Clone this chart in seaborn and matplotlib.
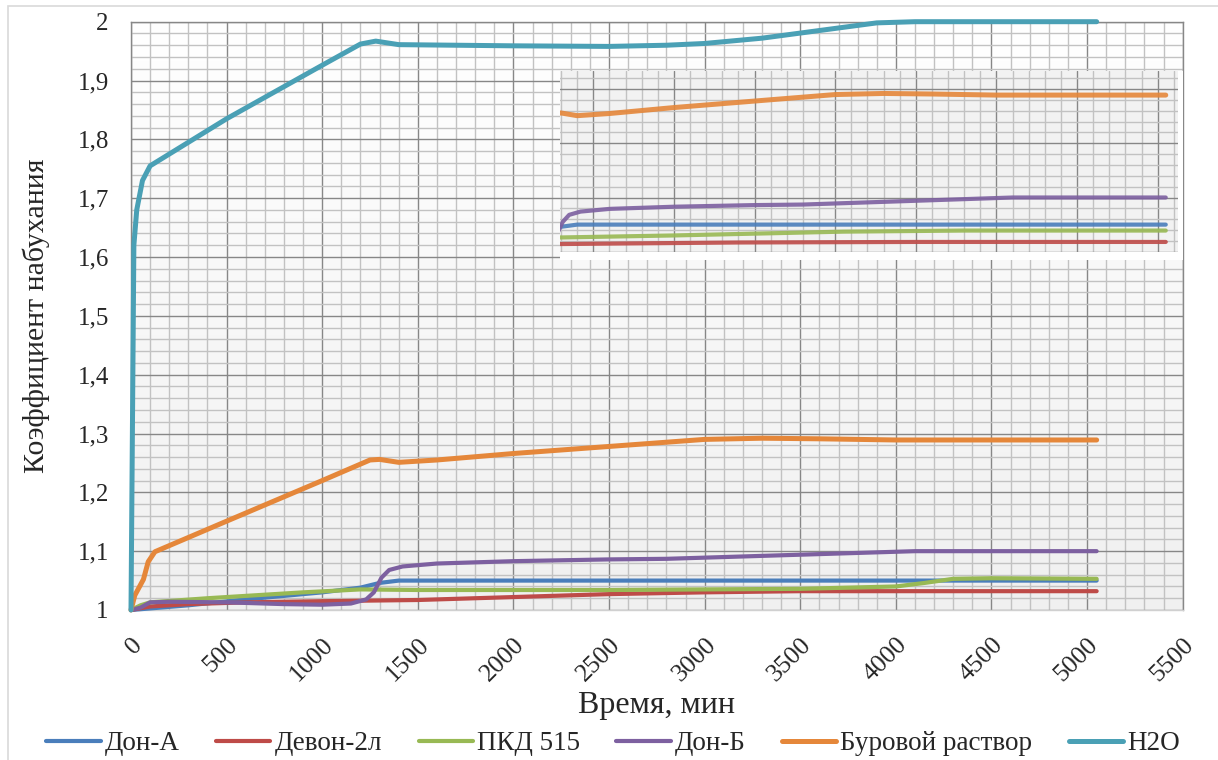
import numpy as np
import pandas as pd
import matplotlib
matplotlib.use('Agg')
import matplotlib.pyplot as plt
import matplotlib.transforms as mtransforms
from matplotlib.colors import LinearSegmentedColormap
from matplotlib.patches import Rectangle
from matplotlib.ticker import MultipleLocator
import seaborn as sns

sns.set_theme(style='white')
plt.rcParams['font.family'] = ['Liberation Serif', 'DejaVu Serif']

# данные (время, мин -> коэффициент набухания)
don_a_t = [0, 300, 600, 1000, 1200, 1300, 1400, 5050]
don_a_k = [1.0, 1.008, 1.018, 1.030, 1.038, 1.046, 1.050, 1.050]

devon_t = [0, 100, 300, 600, 1000, 1500, 2000, 2500, 3000, 3500, 5050]
devon_k = [1.0, 1.006, 1.010, 1.013, 1.015, 1.017, 1.022, 1.027, 1.030, 1.032, 1.032]

pkd_t = [0, 50, 100, 400, 900, 1200, 1500, 2500, 3500, 4000, 4150, 4300, 4500, 5050]
pkd_k = [1.0, 1.008, 1.013, 1.020, 1.030, 1.035, 1.034, 1.034, 1.036, 1.040, 1.046, 1.053, 1.054, 1.053]

don_b_t = [0, 50, 100, 200, 500, 800, 1000, 1150, 1230, 1270, 1310, 1350, 1420, 1600,
           2000, 2500, 2800, 3000, 3500, 4000, 4100, 5050]
don_b_k = [1.0, 1.004, 1.013, 1.014, 1.013, 1.010, 1.009, 1.011, 1.018, 1.030, 1.055, 1.068,
           1.074, 1.079, 1.083, 1.086, 1.087, 1.089, 1.094, 1.099, 1.100, 1.100]

bur_t = [0, 20, 40, 65, 90, 125, 500, 1000, 1250, 1300, 1400, 1600, 2000, 2500, 3000,
         3300, 3600, 4000, 5050]
bur_k = [1.0, 1.025, 1.037, 1.052, 1.082, 1.099, 1.151, 1.220, 1.255, 1.256, 1.251, 1.255,
         1.266, 1.278, 1.290, 1.292, 1.291, 1.289, 1.289]

h2o_t = [0, 15, 30, 60, 100, 200, 500, 1000, 1200, 1280, 1400, 1700, 2000, 2500, 2800,
         3000, 3300, 3600, 3900, 4100, 4500, 5050]
h2o_k = [1.0, 1.62, 1.68, 1.73, 1.755, 1.775, 1.835, 1.926, 1.962, 1.967, 1.961, 1.960,
         1.959, 1.958, 1.960, 1.963, 1.972, 1.985, 1.998, 2.0, 2.0, 2.0]

# врезка: Девон-2л и ПКД 515 на ней идут немного ниже
inset_devon_t = [1250, 2400, 3500, 5050]
inset_devon_k = [1.014, 1.017, 1.018, 1.018]
inset_pkd_t = [1250, 2000, 3050, 3800, 5050]
inset_pkd_k = [1.026, 1.030, 1.037, 1.039, 1.039]

names = ['Дон-А', 'Девон-2л', 'ПКД 515', 'Дон-Б', 'Буровой раствор', 'H2O']
times = [don_a_t, devon_t, pkd_t, don_b_t, bur_t, h2o_t]
values = [don_a_k, devon_k, pkd_k, don_b_k, bur_k, h2o_k]
colors = ['#4a7ebb', '#be4b48', '#98b954', '#7d60a0', '#e5873a', '#4aa0b5']
widths = [3.0, 3.0, 3.0, 3.0, 3.6, 3.6]

df = pd.concat([pd.DataFrame({'t': t, 'k': k, 'name': n})
                for t, k, n in zip(times, values, names)], ignore_index=True)
ins_times = [don_a_t, inset_devon_t, inset_pkd_t, don_b_t, bur_t]
ins_values = [don_a_k, inset_devon_k, inset_pkd_k, don_b_k, bur_k]
df_ins = pd.concat([pd.DataFrame({'t': t, 'k': k, 'name': n})
                    for t, k, n in zip(ins_times, ins_values, names)], ignore_index=True)

W, H = 1218, 760
fig = plt.figure(figsize=(W / 100, H / 100), dpi=100)
fig.patches.append(Rectangle((8 / W, -0.1), 1.2, 1 - 6 / H + 0.1, transform=fig.transFigure,
                             fill=False, edgecolor='#d9d9d9', lw=1.2))

L, R, T, B = 131, 1182.7, 21.7, 610
ax = fig.add_axes([L / W, 1 - B / H, (R - L) / W, (B - T) / H])


def style_grid(a, xmaj, xmin, ymaj, ymin):
    a.xaxis.set_major_locator(MultipleLocator(xmaj))
    a.xaxis.set_minor_locator(MultipleLocator(xmin))
    a.yaxis.set_major_locator(MultipleLocator(ymaj))
    a.yaxis.set_minor_locator(MultipleLocator(ymin))
    a.grid(which='minor', color='#c2c2c2', lw=1.0)
    a.grid(which='major', color='#878787', lw=1.0)
    a.set_axisbelow(True)


# фон с градиентом
grad = LinearSegmentedColormap.from_list('g', ['#f0f0f0', '#ffffff'])
ax.imshow(np.linspace(0, 1, 256).reshape(-1, 1), cmap=grad, aspect='auto',
          extent=[0, 1, 0, 1], transform=ax.transAxes, zorder=0, origin='lower')

for n, c, w in zip(names, colors, widths):
    d = df[df['name'] == n]
    sns.lineplot(data=d, x='t', y='k', ax=ax, color=c, lw=w, label=n,
                 sort=False, estimator=None, clip_on=False, zorder=3,
                 solid_capstyle='round', solid_joinstyle='round')

ax.set_xlim(0, 5500)
ax.set_ylim(1, 2)
style_grid(ax, 500, 100, 0.1, 0.02)
for s in ax.spines.values():
    s.set_color('#878787')
    s.set_linewidth(1.0)
ax.spines['bottom'].set_color('#d0d0d0')

xt = np.arange(0, 5501, 500)
ax.set_xticks(xt)
ax.set_xticklabels([str(v) for v in xt], rotation=45, ha='right', va='top',
                   rotation_mode='anchor', fontsize=18.5)
off = mtransforms.ScaledTranslation(11 / 100, 0, fig.dpi_scale_trans)
for lab in ax.get_xticklabels():
    lab.set_transform(lab.get_transform() + off)
yt = np.round(np.arange(1, 2.01, 0.1), 1)
ax.set_yticks(yt)
ax.set_yticklabels([('%g' % v).replace('.', ',') for v in yt], fontsize=18)
ax.tick_params(axis='both', which='both', length=0)
ax.tick_params(axis='x', pad=17)
ax.tick_params(axis='y', pad=16)

ax.set_xlabel('Время, мин', fontsize=23, labelpad=4)
ax.set_ylabel('Коэффициент набухания', fontsize=21.5, labelpad=20)

ax.legend(loc='center', bbox_to_anchor=(0.5 * (W / (R - L)) - L / (R - L) + 0.004,
                                        -(744 - B) / (B - T)),
          ncol=6, frameon=False, fontsize=19.5, handlelength=2.0, columnspacing=1.35,
          handletextpad=0.15, borderaxespad=0)

# врезка (увеличенный фрагмент)
fig.patches.append(Rectangle((560 / W, 1 - 260 / H), (R - 560) / W, (260 - 70.7) / H,
                             transform=fig.transFigure, facecolor='white', edgecolor='none',
                             zorder=5))
iL, iR, iT, iB = 560, 1177.7, 70.7, 251.7
ins = fig.add_axes([iL / W, 1 - iB / H, (iR - iL) / W, (iB - iT) / H], zorder=6)
ins.set_facecolor('#f2f2f2')
for n, c, w in zip(names[:5], colors[:5], widths[:5]):
    d = df_ins[df_ins['name'] == n]
    sns.lineplot(data=d, x='t', y='k', ax=ins, color=c, lw=w, legend=False,
                 sort=False, estimator=None, zorder=3, alpha=0.9)
ins.set_xlim(1293, 5124)
ins.set_ylim(1.0, 1.334)
style_grid(ins, 500, 100, 0.1, 0.02)
ins.tick_params(which='both', length=0, labelbottom=False, labelleft=False)
ins.set_xlabel('')
ins.set_ylabel('')
for s in ins.spines.values():
    s.set_visible(False)

fig.savefig('out.png', dpi=100)
